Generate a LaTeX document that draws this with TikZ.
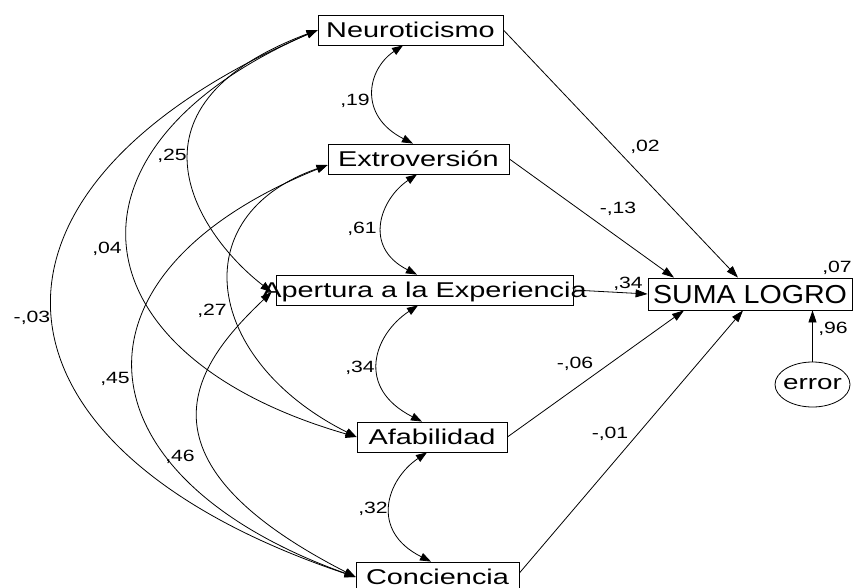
\documentclass[tikz,border=0pt]{standalone}
\usepackage{fontspec}
\setmainfont{Liberation Sans}
\newfontfamily\boxfont[FakeStretch=1.35]{Liberation Sans}
\newfontfamily\labfont[FakeStretch=1.3]{Liberation Sans}
\newfontfamily\sumafont[FakeStretch=1.1]{Liberation Sans}
\usetikzlibrary{arrows.meta,shapes.geometric}
\begin{document}
\begin{tikzpicture}[x=1pt,y=-1pt,
  var/.style={draw, line width=0.8pt, rectangle, inner sep=0pt, minimum height=30pt,
    font=\boxfont\fontsize{21.4}{24}\selectfont, text height=15.3pt, text depth=0pt},
  lab/.style={font=\labfont\fontsize{16.3}{18}\selectfont, inner sep=0pt, text height=11.7pt, text depth=0pt},
  reg/.style={line width=0.8pt, -{Triangle[length=12pt,width=8pt]}},
  cov/.style={line width=0.8pt, {Triangle[length=11pt,width=8pt]}-{Triangle[length=11pt,width=8pt]}},
]
\useasboundingbox (0,0) rectangle (853,588);
\clip (0,0) rectangle (853,588);

% variables
\node[var, minimum width=185pt] (neu) at (410.5,30) {\makebox[0pt]{Neuroticismo}};
\node[var, minimum width=181pt] (ext) at (418.5,159) {\makebox[0pt]{Extroversión}};
\node[var, minimum width=297pt] (ape) at (424.5,290) {\makebox[0pt]{Apertura a la Experiencia}};
\node[var, minimum width=150pt] (afa) at (432,437) {\makebox[0pt]{Afabilidad}};
\node[var, minimum width=163pt] (con) at (437.5,577) {\makebox[0pt]{Conciencia}};
\node[var, minimum width=204pt, minimum height=32pt,
  font=\sumafont\fontsize{26}{28}\selectfont, text height=18.6pt] (suma) at (750,294) {\makebox[0pt]{SUMA LOGRO}};
\node[draw, ellipse, line width=0.8pt, minimum width=75pt, minimum height=45pt, inner sep=0pt,
  font=\boxfont\fontsize{20.6}{22}\selectfont, text height=10.7pt, text depth=0pt] (err) at (812.5,384.5) {\makebox[0pt]{error}};

% regressions
\draw[reg] (neu.east) -- ([xshift=-12pt]suma.north);
\draw[reg] (ext.east) -- ([xshift=-76pt]suma.north);
\draw[reg] (ape.east) -- (suma.west);
\draw[reg] (afa.east) -- ([xshift=-66pt]suma.south);
\draw[reg] ([yshift=4pt]con.east) -- ([xshift=-7pt]suma.south);
\draw[reg] (err.north) -- (err.north |- suma.south);

% covariances, non-adjacent
\draw[cov] (neu.west) .. controls (-53,190) and (-29,448) .. (con.west);
\draw[cov] (neu.west) .. controls (47,148) and (72,355) .. (afa.west);
\draw[cov] (neu.west) .. controls (110,108) and (200.6,237.4) .. ([xshift=-4pt,yshift=-2pt]ape.west);
\draw[cov] ([yshift=-6pt]ext.west) .. controls (55,275) and (76,477) .. (con.west);
\draw[cov] ([yshift=-6pt]ext.west) .. controls (181.4,216) and (205,361) .. (afa.west);
\draw[cov] ([xshift=-4pt,yshift=-2pt]ape.west) .. controls (199.7,360.3) and (120.3,456.7) .. (con.west);

% covariances, adjacent
\draw[cov] ([xshift=-7.5pt]neu.south) .. controls +(-36,24) and +(-55,-28) .. ([xshift=-5.5pt]ext.north);
\draw[cov] ([xshift=-1.5pt]ext.south) .. controls +(-36,24) and +(-55,-28) .. ([xshift=-7.5pt]ape.north);
\draw[cov] ([xshift=-6.5pt]ape.south) .. controls +(-44,29) and +(-67,-34) .. ([xshift=-10pt]afa.north);
\draw[cov] ([xshift=-5pt]afa.south) .. controls +(-40,27) and +(-62,-31) .. ([xshift=-6.5pt]con.north);

% labels
\node[lab] (l19) at (355,100) {,19};
\node[lab] (l61) at (362,228) {,61};
\node[lab] (l25) at (172,155) {,25};
\node[lab] (l04) at (107,248) {,04};
\node[lab] (l27) at (212,310) {,27};
\node[lab] (l03) at (32,317) {-,03};
\node[lab] (l34a) at (360,367) {,34};
\node[lab] (l45) at (115,378) {,45};
\node[lab] (l46) at (180,456) {,46};
\node[lab] (l32) at (373,508) {,32};
\node[lab] (l02) at (645,146) {,02};
\node[lab] (l13) at (618,208) {-,13};
\node[lab] (l34b) at (628,283) {,34};
\node[lab] (l07) at (837,267) {,07};
\node[lab] (l96) at (833,328) {,96};
\node[lab] (l06) at (575,363) {-,06};
\node[lab] (l01) at (610,433) {-,01};
\end{tikzpicture}
\end{document}
